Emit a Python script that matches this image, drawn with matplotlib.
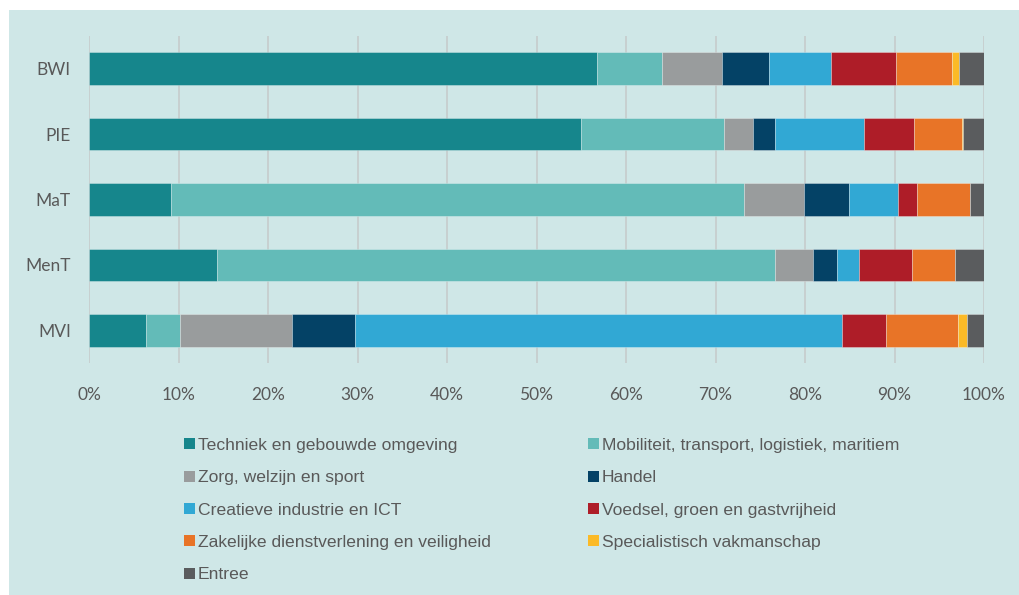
import numpy as np
import matplotlib.pyplot as plt
from matplotlib.patches import Rectangle, Patch

groups = ['BWI', 'PIE', 'MaT', 'MenT', 'MVI']
sectors = ['Techniek en gebouwde omgeving',
           'Mobiliteit, transport, logistiek, maritiem',
           'Zorg, welzijn en sport',
           'Handel',
           'Creatieve industrie en ICT',
           'Voedsel, groen en gastvrijheid',
           'Zakelijke dienstverlening en veiligheid',
           'Specialistisch vakmanschap',
           'Entree']
colors = ['#16868c', '#63bbb8', '#999c9d', '#044266', '#31a8d4',
          '#ae1d28', '#e87427', '#fbba27', '#5a5c5e']

# percentages per group, order of sectors
bwi = [56.8, 7.2, 6.7, 5.3, 6.9, 7.3, 6.2, 0.8, 2.8]
pie = [55.0, 15.9, 3.3, 2.4, 10.0, 5.6, 5.3, 0.1, 2.4]
mat = [9.2, 64.0, 6.7, 5.0, 5.5, 2.1, 5.9, 0.0, 1.6]
ment = [14.3, 62.4, 4.2, 2.7, 2.4, 5.9, 4.9, 0.0, 3.2]
mvi = [6.4, 3.8, 12.5, 7.0, 54.4, 5.0, 8.0, 1.0, 1.9]

data = np.array([bwi, pie, mat, ment, mvi])
data = data / data.sum(axis=1, keepdims=True)

txt = '#595959'
bg = '#cfe7e7'

fig = plt.figure(figsize=(10.19, 5.95), dpi=100)
fig.patch.set_facecolor('white')
fig.patches.append(Rectangle((9/1019, 0), 1 - 9/1019, 1 - 10/595,
                             transform=fig.transFigure, facecolor=bg,
                             edgecolor='none', zorder=-10))

ax = fig.add_axes([89/1019, 1 - 363/595, 895/1019, 327/595])
ax.set_facecolor('none')

y = np.arange(len(groups))
left = np.zeros(len(groups))
for i in range(len(sectors)):
    ax.barh(y, data[:, i], left=left, height=0.5, color=colors[i],
            edgecolor=(1, 1, 1, 0.35), linewidth=0.6, label=sectors[i], zorder=3)
    left += data[:, i]

ax.set_xlim(0, 1)
ax.set_ylim(len(groups) - 0.5, -0.5)
ax.set_yticks(y)
ax.set_yticklabels(groups)
ax.set_xticks(np.linspace(0, 1, 11))
ax.set_xticklabels(['%d%%' % v for v in range(0, 101, 10)])
ax.xaxis.grid(True, color='#c6cccc', linewidth=1.2, zorder=0)
ax.set_axisbelow(True)
for s in ax.spines.values():
    s.set_visible(False)
ax.tick_params(axis='both', length=0, labelsize=12.5, labelcolor=txt)
ax.tick_params(axis='y', pad=13)
ax.tick_params(axis='x', pad=17)
for lab in ax.get_xticklabels() + ax.get_yticklabels():
    lab.set_family('Lato')

handles = [Patch(facecolor=c, edgecolor='none') for c in colors]
order = [0, 2, 4, 6, 8, 1, 3, 5, 7]
leg = fig.legend([handles[k] for k in order], [sectors[k] for k in order],
                 loc='upper left', bbox_to_anchor=(184/1019, 1 - 438/595),
                 ncol=2, frameon=False, borderpad=0, borderaxespad=0,
                 handlelength=0.6, handleheight=0.6, handletextpad=0.2,
                 labelspacing=0.99, columnspacing=5.55,
                 prop={'family': 'Liberation Sans', 'size': 12.6})
for t in leg.get_texts():
    t.set_color(txt)

fig.savefig('out.png', dpi=100, facecolor=fig.get_facecolor())
